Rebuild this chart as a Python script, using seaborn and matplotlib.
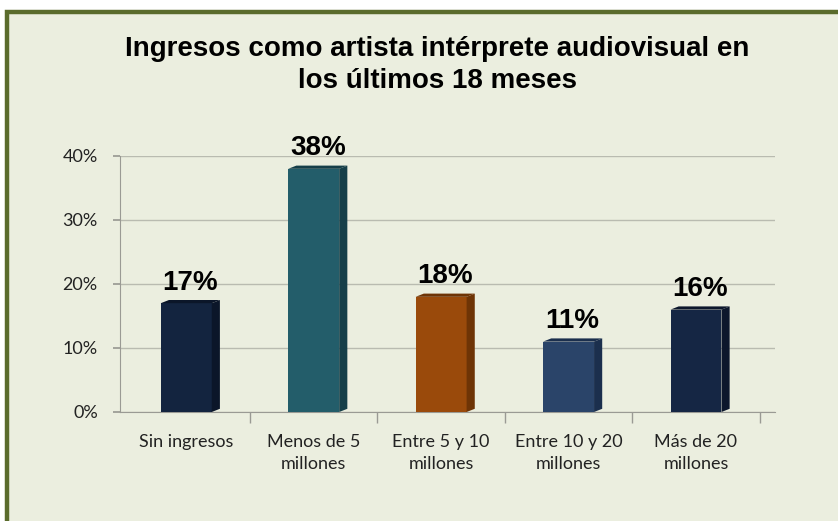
import matplotlib
matplotlib.use("Agg")
import matplotlib.pyplot as plt
import seaborn as sns
import pandas as pd
from matplotlib.patches import Rectangle, Polygon

categories = ["Sin ingresos", "Menos de 5\nmillones", "Entre 5 y 10\nmillones",
              "Entre 10 y 20\nmillones", "Más de 20\nmillones"]
values = [17, 38, 18, 11, 16]
value_labels = ["17%", "38%", "18%", "11%", "16%"]
bar_colors = ["#13243f", "#235d6a", "#9a4a0b", "#2a4469", "#152644"]
side_colors = ["#0b1629", "#163f49", "#6e3406", "#1b2f4d", "#0c172c"]
yticks = [0, 10, 20, 30, 40]
ytick_labels = ["0%", "10%", "20%", "30%", "40%"]
title = "Ingresos como artista intérprete audiovisual en\nlos últimos 18 meses"

sns.set_theme(style="white")
plt.rcParams["font.family"] = ["Liberation Sans", "DejaVu Sans"]

bg = "#ebeedf"
fig = plt.figure(figsize=(8.38, 5.21), dpi=100)
fig.patch.set_facecolor("white")
panel = Rectangle((7 / 838, -0.05), 1.0, 1 - 12 / 521 + 0.05, transform=fig.transFigure,
                  facecolor=bg, edgecolor="#5a6b2c", linewidth=3.2, zorder=-10)
fig.patches.append(panel)

y0_px, y40_px = 412, 156
ax = fig.add_axes([120 / 838, 1 - y0_px / 521, (775 - 120) / 838, (y0_px - y40_px) / 521])
ax.set_facecolor("none")
ax.set_zorder(1)

df = pd.DataFrame({"cat": categories, "val": values})
sns.barplot(data=df, x="cat", y="val", hue="cat", palette=bar_colors, legend=False,
            width=0.40, ax=ax, saturation=1, zorder=3, linewidth=0, edgecolor="none")

ax.set_ylim(0, 40)
ax.set_xlim(-0.52, 4.62)
ax.set_yticks(yticks)
ax.set_yticklabels(ytick_labels, fontfamily="Lato", fontsize=13, color="#222222")
ax.set_xticks(range(len(categories)))
ax.set_xticklabels(categories, fontfamily="Lato", fontsize=13, color="#222222",
                   linespacing=1.45, va="top")
ax.set_xlabel("")
ax.set_ylabel("")
ax.yaxis.grid(True, color="#b9bbb0", linewidth=1.0, zorder=0)
ax.set_axisbelow(True)
for s in ["top", "right"]:
    ax.spines[s].set_visible(False)
for s in ["left", "bottom"]:
    ax.spines[s].set_color("#9a9a94")
    ax.spines[s].set_linewidth(0.8)
ax.tick_params(axis="y", left=True, length=5, color="#9a9a94", pad=11)
ax.tick_params(axis="x", bottom=False, pad=10)
ax.set_xticks([0.5, 1.5, 2.5, 3.5, 4.5], minor=True)
ax.tick_params(axis="x", which="minor", bottom=True, length=8, color="#9a9a94")

# pseudo 3D side faces and labels derived from drawn bars
bars = list(ax.patches)
for i, p in enumerate(bars):
    x0, w, h = p.get_x(), p.get_width(), p.get_height()
    d = w * 0.16
    dy = 0.5
    side = Polygon([(x0 + w, 0), (x0 + w + d, dy), (x0 + w + d, h + dy), (x0 + w, h)],
                   closed=True, facecolor=side_colors[i], edgecolor="none", zorder=3)
    top = Polygon([(x0, h), (x0 + w, h), (x0 + w + d, h + dy), (x0 + d, h + dy)],
                  closed=True, facecolor=side_colors[i], edgecolor="none", zorder=3)
    ax.add_patch(side)
    ax.add_patch(top)
    ax.text(x0 + (w + d) / 2, h + 1.2, value_labels[i], ha="center", va="bottom",
            fontsize=20, fontweight="bold", color="black", zorder=4)

fig.text(437 / 838, 1 - 65 / 521, title, ha="center", va="center", fontsize=20,
         fontweight="bold", color="black", linespacing=1.3)

fig.savefig("out.png", dpi=100, facecolor=fig.get_facecolor())
